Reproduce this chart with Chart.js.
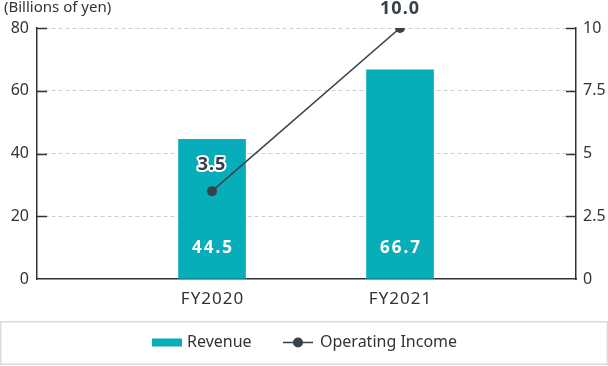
<!DOCTYPE html>
<html lang="en">
<head>
  <meta charset="UTF-8" />
  <title>Revenue and Operating Income</title>
  <script src="https://cdn.jsdelivr.net/npm/chart.js@4"></script>
  <style>
    html, body { margin: 0; padding: 0; background: #fff; }
    #wrap { width: 608px; height: 366px; position: relative; }
  </style>
</head>
<body>
  <div id="wrap"><canvas id="chart" width="608" height="366"></canvas></div>

  <script>
    // data
    const categories = ['FY2020', 'FY2021'];
    const revenue = [44.5, 66.7];
    const operatingIncome = [3.5, 10.0];
    const leftTicks = [0, 20, 40, 60, 80];
    const rightTicks = [0, 2.5, 5, 7.5, 10];

    const TEAL = '#07adb9';
    const DARK = '#36414c';
    const TEXT = '#333333';
    const FONT = '"Noto Sans", "Open Sans", sans-serif';

    // draws value labels, category labels, inward ticks, axis caption and the legend box
    const decorations = {
      id: 'decorations',
      afterDatasetsDraw(chart) {
        const ctx = chart.ctx;
        const bars = chart.getDatasetMeta(0).data;
        const pts = chart.getDatasetMeta(1).data;

        ctx.save();
        // bar labels
        ctx.font = 'bold 17px ' + FONT;
        ctx.letterSpacing = '2px';
        ctx.fillStyle = '#ffffff';
        ctx.textAlign = 'center';
        ctx.textBaseline = 'middle';
        bars.forEach((b, i) => {
          ctx.fillText(revenue[i].toFixed(1), b.x + 1, b.base - 30);
        });

        // line labels
        const offsets = [26, 19];
        ctx.font = 'bold 18px ' + FONT;
        ctx.letterSpacing = '1px';
        pts.forEach((p, i) => {
          const txt = operatingIncome[i].toFixed(1);
          const y = p.y - offsets[i];
          ctx.lineWidth = 4;
          ctx.lineJoin = 'round';
          ctx.strokeStyle = '#ffffff';
          ctx.strokeText(txt, p.x, y);
          ctx.fillStyle = DARK;
          ctx.fillText(txt, p.x, y);
        });
        ctx.restore();
      },
      afterDraw(chart) {
        const ctx = chart.ctx;
        const xS = chart.scales.x;
        const yL = chart.scales.y;
        const yR = chart.scales.y1;
        ctx.save();

        // inward tick marks
        ctx.strokeStyle = TEXT;
        ctx.lineWidth = 1.5;
        yL.ticks.forEach(t => {
          const y = Math.round(yL.getPixelForValue(t.value)) + 0.5;
          if (t.value === 0) return;
          ctx.beginPath();
          ctx.moveTo(yL.right, y);
          ctx.lineTo(yL.right + 10, y);
          ctx.stroke();
        });
        yR.ticks.forEach(t => {
          const y = Math.round(yR.getPixelForValue(t.value)) + 0.5;
          if (t.value === 0) return;
          ctx.beginPath();
          ctx.moveTo(yR.left - 10, y);
          ctx.lineTo(yR.left, y);
          ctx.stroke();
        });

        // category labels
        ctx.font = '17px ' + FONT;
        ctx.letterSpacing = '1px';
        ctx.fillStyle = TEXT;
        ctx.textAlign = 'center';
        ctx.textBaseline = 'middle';
        categories.forEach((c, i) => {
          ctx.fillText(c, xS.getPixelForValue(i + 1) + 0.5, xS.top + 20);
        });
        ctx.letterSpacing = '0px';

        // unit caption
        ctx.font = '15px ' + FONT;
        ctx.textAlign = 'left';
        ctx.fillText('(Billions of yen)', 4, 8);

        // legend box
        ctx.strokeStyle = '#dcdcdc';
        ctx.lineWidth = 1.5;
        ctx.strokeRect(0.75, 321.75, 606.5, 42.5);

        const ly = 342.5;
        ctx.fillStyle = TEAL;
        ctx.fillRect(152, ly - 4, 30, 8);
        ctx.font = '16px ' + FONT;
        ctx.fillStyle = TEXT;
        ctx.fillText('Revenue', 187, ly);

        ctx.strokeStyle = DARK;
        ctx.lineWidth = 1.5;
        ctx.beginPath();
        ctx.moveTo(283, ly);
        ctx.lineTo(313, ly);
        ctx.stroke();
        ctx.fillStyle = DARK;
        ctx.beginPath();
        ctx.arc(298, ly, 5, 0, Math.PI * 2);
        ctx.fill();
        ctx.fillStyle = TEXT;
        ctx.fillText('Operating Income', 320, ly);

        ctx.restore();
      }
    };

    new Chart(document.getElementById('chart'), {
      data: {
        datasets: [
          {
            type: 'bar',
            label: 'Revenue',
            data: categories.map((c, i) => ({ x: i + 1, y: revenue[i] })),
            backgroundColor: TEAL,
            barThickness: 67,
            yAxisID: 'y',
            order: 2
          },
          {
            type: 'line',
            label: 'Operating Income',
            data: categories.map((c, i) => ({ x: i + 1, y: operatingIncome[i] })),
            borderColor: DARK,
            backgroundColor: DARK,
            borderWidth: 1.5,
            pointRadius: 5,
            pointBackgroundColor: DARK,
            pointBorderWidth: 0,
            yAxisID: 'y1',
            order: 1
          }
        ]
      },
      options: {
        responsive: false,
        animation: false,
        devicePixelRatio: 1,
        layout: { padding: { top: 28, left: 0, right: 0, bottom: 0 } },
        plugins: {
          legend: { display: false },
          tooltip: { enabled: false }
        },
        scales: {
          x: {
            type: 'linear',
            offset: false,
            bounds: 'data',
            min: 0.069,
            max: 2.936,
            afterBuildTicks: s => { s.ticks = categories.map((c, i) => ({ value: i + 1 })); },
            afterFit: s => { s.height = 87; },
            grid: { display: false, drawTicks: false },
            border: { color: TEXT, width: 1.5 },
            ticks: { display: false }
          },
          y: {
            position: 'left',
            min: 0,
            max: 80,
            afterBuildTicks: s => { s.ticks = leftTicks.map(v => ({ value: v })); },
            afterFit: s => { s.width = 37; },
            grid: {
              drawTicks: false,
              color: c => c.tick.value === 0 ? 'rgba(0,0,0,0)' : '#cfcfcf',
              lineWidth: 1
            },
            border: { color: TEXT, width: 1.5, dash: [4, 3] },
            ticks: {
              padding: 8,
              color: TEXT,
              font: { family: FONT, size: 16 }
            }
          },
          y1: {
            position: 'right',
            min: 0,
            max: 10,
            afterBuildTicks: s => { s.ticks = rightTicks.map(v => ({ value: v })); },
            afterFit: s => { s.width = 32; },
            grid: { display: false, drawTicks: false },
            border: { color: TEXT, width: 1.5 },
            ticks: {
              padding: 7,
              color: TEXT,
              font: { family: FONT, size: 16 }
            }
          }
        }
      },
      plugins: [decorations]
    });
  </script>
</body>
</html>
